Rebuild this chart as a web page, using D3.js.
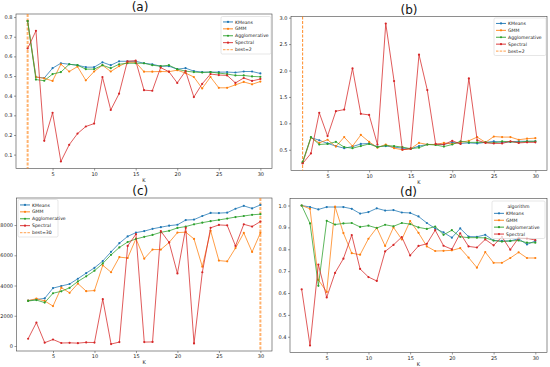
<!DOCTYPE html>
<html><head><meta charset="utf-8">
<script src="https://cdn.jsdelivr.net/npm/d3@7"></script>
<style>body{margin:0;background:#fff}svg{display:block}text{font-family:"DejaVu Sans",sans-serif}</style>
</head><body><svg id="c" width="550" height="367"></svg>
<script>
const K = d3.range(2, 31);
const algorithms = ["KMeans", "GMM", "Agglomerative", "Spectral"];
const colors = ["#1f77b4", "#ff7f0e", "#2ca02c", "#d62728"];

// (a)
const aKMeans = [0.78,0.495,0.49,0.54,0.565,0.56,0.555,0.545,0.545,0.57,0.555,0.575,0.575,0.575,0.565,0.56,0.55,0.55,0.535,0.54,0.525,0.52,0.52,0.52,0.52,0.518,0.523,0.523,0.513];
const aGMM = [0.78,0.495,0.488,0.475,0.56,0.523,0.548,0.478,0.523,0.555,0.523,0.55,0.57,0.57,0.522,0.522,0.523,0.522,0.53,0.515,0.495,0.437,0.495,0.44,0.44,0.455,0.47,0.458,0.472];
const aAgglo = [0.78,0.482,0.476,0.51,0.52,0.56,0.555,0.535,0.535,0.555,0.54,0.56,0.565,0.565,0.565,0.555,0.55,0.555,0.535,0.525,0.52,0.518,0.52,0.515,0.51,0.503,0.503,0.498,0.496];
const aSpectral = [0.64,0.73,0.17,0.313,0.065,0.15,0.207,0.243,0.258,0.495,0.327,0.41,0.575,0.578,0.428,0.425,0.543,0.522,0.465,0.525,0.393,0.46,0.51,0.505,0.503,0.465,0.49,0.475,0.485];
const aTicks = [0.1,0.2,0.3,0.4,0.5,0.6,0.7,0.8];

// (b)
const bKMeans = [0.25,0.73,0.68,0.62,0.57,0.53,0.56,0.61,0.62,0.56,0.57,0.55,0.53,0.52,0.57,0.6,0.6,0.6,0.64,0.62,0.63,0.62,0.64,0.66,0.64,0.65,0.66,0.66,0.66];
const bGMM = [0.25,0.73,0.63,0.69,0.56,0.74,0.57,0.78,0.65,0.54,0.6,0.53,0.5,0.52,0.63,0.6,0.6,0.63,0.61,0.64,0.67,0.74,0.64,0.75,0.74,0.74,0.69,0.71,0.72];
const bAgglo = [0.27,0.74,0.6,0.61,0.65,0.55,0.53,0.57,0.61,0.55,0.58,0.57,0.55,0.52,0.54,0.6,0.59,0.56,0.6,0.66,0.64,0.64,0.64,0.63,0.66,0.65,0.64,0.66,0.66];
const bSpectral = [0.24,0.43,1.2,0.76,1.23,1.26,2.04,1.18,1.16,0.6,2.89,1.8,0.5,0.52,2.3,1.63,0.61,0.6,0.67,0.61,1.85,0.68,0.63,0.62,0.62,0.66,0.63,0.64,0.64];
const bTicks = [0.5,1.0,1.5,2.0,2.5,3.0];

// (c)
const cKMeans = [3000,3080,3150,3830,3970,4100,4450,4820,5170,5620,6230,6800,7250,7500,7600,7750,7860,7960,8020,8330,8360,8600,8800,8790,8820,9080,9270,9100,9330];
const cGMM = [3000,3130,2980,2640,3860,3520,4130,3630,3670,5340,4880,5880,5820,7100,5780,6380,6380,6850,7500,7530,7080,5250,7620,5650,5600,6480,7480,6220,7480];
const cAgglo = [2980,3040,2870,3490,3620,3850,4270,4610,4980,5460,6030,6520,6880,7080,7220,7350,7520,7620,7810,7900,8050,8160,8260,8340,8430,8530,8600,8680,8720];
const cSpectral = [480,1550,220,430,200,210,190,240,230,3100,130,260,6620,7400,260,270,7600,6850,4800,7820,170,4880,7820,8010,7980,6620,8050,7900,8230];
const cTicks = [0,2000,4000,6000,8000];

// (d)
const dKMeans = [1.0,0.993,0.982,0.993,0.993,0.993,0.985,0.963,0.97,0.987,0.977,0.979,0.968,0.966,0.95,0.92,0.895,0.877,0.853,0.895,0.858,0.857,0.866,0.84,0.838,0.838,0.848,0.822,0.838];
const dGMM = [1.0,0.985,0.66,0.605,0.995,0.874,0.782,0.775,0.848,0.898,0.815,0.9,0.845,0.929,0.875,0.813,0.792,0.793,0.795,0.805,0.762,0.716,0.787,0.738,0.738,0.76,0.786,0.76,0.76];
const dAgglo = [1.0,0.918,0.633,0.93,0.913,0.918,0.92,0.902,0.908,0.897,0.912,0.905,0.92,0.915,0.9,0.893,0.904,0.866,0.887,0.857,0.853,0.853,0.852,0.84,0.835,0.838,0.84,0.83,0.83];
const dSpectral = [0.617,0.36,0.73,0.58,0.692,0.757,0.865,0.71,0.673,0.655,0.79,0.82,0.856,0.772,0.815,0.825,0.887,0.816,0.8,0.873,0.813,0.808,0.845,0.818,0.857,0.798,0.852,0.85,0.842];
const dTicks = [0.4,0.5,0.6,0.7,0.8,0.9,1.0];

const xTicks = [5,10,15,20,25,30];
const titles = ["(a)", "(b)", "(c)", "(d)"];
const bestK = [2, 2, 30, null];
const bestLabels = ["best=2", "best=2", "best=30", null];

const svg = d3.select("#c");

function pad(ext){ const r = ext[1]-ext[0]; return [ext[0]-0.05*r, ext[1]+0.05*r]; }

function panel(opt){
  const {box, series, yTicks, fmt, title, best, bestLabel, legendPos, legendTitle, vThick} = opt;
  const [x0,y0,x1,y1] = box;
  const g = svg.append("g");
  const x = d3.scaleLinear().domain(pad(d3.extent(K))).range([x0,x1]);
  const all = series.flat();
  const y = d3.scaleLinear().domain(pad(d3.extent(all))).range([y1,y0]);

  // axes
  const xa = g.append("g").attr("transform",`translate(0,${y1})`)
    .call(d3.axisBottom(x).tickValues(xTicks).tickSize(2).tickPadding(1.5).tickFormat(d3.format("d")));
  const ya = g.append("g").attr("transform",`translate(${x0},0)`)
    .call(d3.axisLeft(y).tickValues(yTicks).tickSize(2).tickPadding(1.5).tickFormat(fmt));
  [xa,ya].forEach(a=>{
    a.select(".domain").remove();
    a.selectAll("line").attr("stroke","#333").attr("stroke-width",0.5);
    a.selectAll("text").attr("font-size",5).attr("fill","#222");
  });
  g.append("rect").attr("x",x0).attr("y",y0).attr("width",x1-x0).attr("height",y1-y0)
    .attr("fill","none").attr("stroke","#444").attr("stroke-width",0.6);
  g.append("text").attr("x",(x0+x1)/2).attr("y",y1+13).attr("text-anchor","middle")
    .attr("font-size",5).attr("fill","#222").text("K");
  g.append("text").attr("x",(x0+x1)/2+(x0>100? -10:-4)).attr("y",y0-3).attr("text-anchor","middle")
    .attr("font-size",12).attr("fill","#111").text(title);

  if(best!=null){
    g.append("line").attr("x1",x(best)).attr("x2",x(best)).attr("y1",y0).attr("y2",y1)
      .attr("stroke","#ff7f0e").attr("stroke-width",vThick?2:0.9)
      .attr("stroke-opacity",vThick?0.6:1).attr("stroke-dasharray",vThick?"3,1.5":"3,1.5");
  }
  const line = d3.line().x((d,i)=>x(K[i])).y(d=>y(d));
  series.forEach((s,si)=>{
    g.append("path").attr("d",line(s)).attr("fill","none").attr("stroke",colors[si])
      .attr("stroke-width",0.9).attr("stroke-opacity",0.85);
    g.selectAll(null).data(s).enter().append("circle")
      .attr("cx",(d,i)=>x(K[i])).attr("cy",d=>y(d)).attr("r",1.1).attr("fill",colors[si]);
  });

  // legend
  const items = algorithms.map((a,i)=>({label:a,color:colors[i],dash:false}));
  if(bestLabel) items.push({label:bestLabel,color:"#ff7f0e",dash:true});
  const rows = items.length + (legendTitle?1:0);
  const rh = 6.9, lw = legendPos[2];
  const lg = g.append("g").attr("transform",`translate(${legendPos[0]},${legendPos[1]})`);
  lg.append("rect").attr("width",lw).attr("height",rows*rh+3).attr("rx",1.5)
    .attr("fill","#fff").attr("fill-opacity",0.8).attr("stroke","#ccc").attr("stroke-width",0.5);
  let r0 = 0;
  if(legendTitle){
    lg.append("text").attr("x",lw/2).attr("y",2+rh*0.75).attr("text-anchor","middle")
      .attr("font-size",4.6).attr("fill","#222").text(legendTitle);
    r0 = 1;
  }
  items.forEach((it,i)=>{
    const cy = 2 + (i+r0)*rh + rh/2;
    lg.append("line").attr("x1",2).attr("x2",12).attr("y1",cy).attr("y2",cy)
      .attr("stroke",it.color).attr("stroke-width",it.dash?1.3:0.9)
      .attr("stroke-dasharray",it.dash?"2.5,1.2":null).attr("stroke-opacity",it.dash?0.6:1);
    if(!it.dash) lg.append("circle").attr("cx",7).attr("cy",cy).attr("r",1.1).attr("fill",it.color);
    lg.append("text").attr("x",14).attr("y",cy+1.6).attr("font-size",4.6).attr("fill","#222").text(it.label);
  });
}

panel({box:[16,14,272,168.5], series:[aKMeans,aGMM,aAgglo,aSpectral], yTicks:aTicks, fmt:d3.format(".1f"),
  title:titles[0], best:bestK[0], bestLabel:bestLabels[0], legendPos:[221,16.5,50], vThick:true});
panel({box:[291,16.5,547,170.5], series:[bKMeans,bGMM,bAgglo,bSpectral], yTicks:bTicks, fmt:d3.format(".1f"),
  title:titles[1], best:bestK[1], bestLabel:bestLabels[1], legendPos:[494,18,52], vThick:false});
panel({box:[16.5,198,272,351], series:[cKMeans,cGMM,cAgglo,cSpectral], yTicks:cTicks, fmt:d3.format("d"),
  title:titles[2], best:bestK[2], bestLabel:bestLabels[2], legendPos:[18,199.5,40], vThick:true});
panel({box:[290,198.5,547,352.5], series:[dKMeans,dGMM,dAgglo,dSpectral], yTicks:dTicks, fmt:d3.format(".1f"),
  title:titles[3], best:bestK[3], bestLabel:bestLabels[3], legendPos:[492,201,53], legendTitle:"algorithm", vThick:false});
</script></body></html>
